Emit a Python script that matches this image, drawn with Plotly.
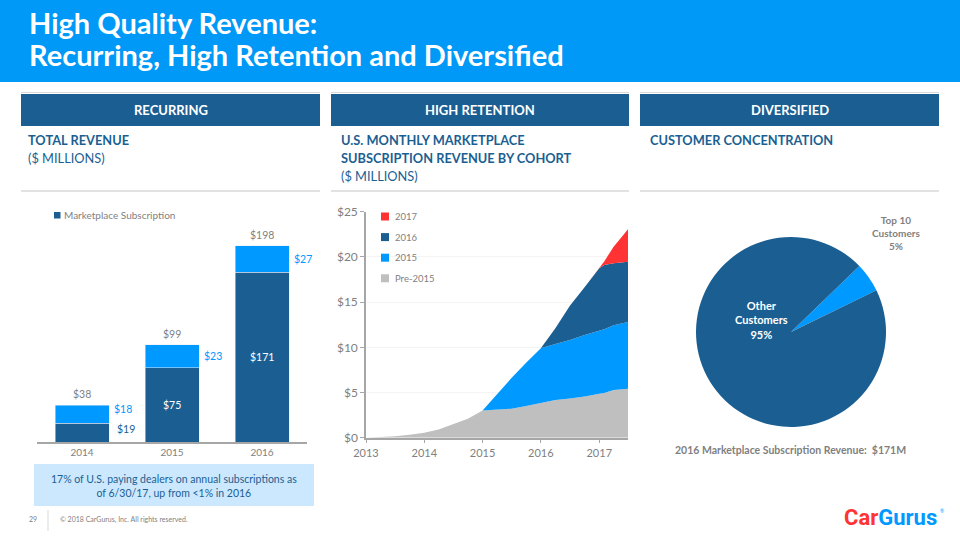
import plotly.graph_objects as go

# ---------------- data ----------------
bar_years = ["2014", "2015", "2016"]
marketplace = [19, 75, 171]
other_rev = [18, 23, 27]
total_labels = ["$38", "$99", "$198"]

dates = ["2013-01-01", "2013-04-01", "2013-07-01", "2013-10-01",
         "2014-01-01", "2014-04-01", "2014-07-01", "2014-10-01",
         "2015-01-01", "2015-04-01", "2015-07-01", "2015-10-01",
         "2016-01-01", "2016-04-01", "2016-07-01", "2016-10-01",
         "2017-01-01", "2017-02-01", "2017-04-01", "2017-06-30"]
pre2015 = [0.0, 0.04, 0.15, 0.33, 0.55, 0.92, 1.5, 2.1, 3.0, 3.08, 3.2, 3.5,
           3.85, 4.17, 4.35, 4.55, 4.85, 4.95, 5.28, 5.42]
cohort2015 = [0, 0, 0, 0, 0, 0, 0, 0, 0, 1.72, 3.4, 4.8,
              6.05, 6.19, 6.45, 6.81, 6.99, 7.05, 7.15, 7.38]
cohort2016 = [0, 0, 0, 0, 0, 0, 0, 0, 0, 0, 0, 0,
              0, 1.74, 3.8, 5.29, 6.9, 7.1, 6.86, 6.65]
cohort2017 = [0, 0, 0, 0, 0, 0, 0, 0, 0, 0, 0, 0,
              0, 0, 0, 0, 0, 0.4, 1.84, 3.6]
y_ticks = [0, 5, 10, 15, 20, 25]
y_tick_labels = ["$0", "$5", "$10", "$15", "$20", "$25"]
x_ticks = ["2013-01-01", "2014-01-01", "2015-01-01", "2016-01-01", "2017-01-01"]
x_tick_labels = ["2013", "2014", "2015", "2016", "2017"]

pie_labels = ["Top 10 Customers", "Other Customers"]
pie_values = [5, 95]

# ---------------- styles ----------------
DARK = "#1B5F92"
LIGHT = "#0099FF"
GRAY = "#BFBFBF"
RED = "#FF3333"
TXT_GRAY = "#7F7F7F"
HEADER = "#0099F7"
FONT = "Lato"

W, H = 960, 540


def px(x):
    return x / W


def py(y):
    return 1 - y / H


fig = go.Figure()

bar_idx = list(range(len(bar_years)))

# ---- bar chart ----
fig.add_trace(go.Bar(x=bar_idx, y=marketplace, marker_color=DARK, name="Marketplace Subscription",
                     xaxis="x", yaxis="y", showlegend=False, hoverinfo="skip"))
fig.add_trace(go.Bar(x=bar_idx, y=other_rev, marker_color=LIGHT, name="Other",
                     xaxis="x", yaxis="y", showlegend=False, hoverinfo="skip"))

# ---- area chart ----
for vals, col, nm in [(pre2015, GRAY, "Pre-2015"), (cohort2015, LIGHT, "2015"),
                      (cohort2016, DARK, "2016"), (cohort2017, RED, "2017")]:
    fig.add_trace(go.Scatter(x=dates, y=vals, stackgroup="cohort", mode="lines",
                             line=dict(width=0, color=col), fillcolor=col, name=nm,
                             xaxis="x2", yaxis="y2", showlegend=False, hoverinfo="skip"))

# ---- pie ----
fig.add_trace(go.Pie(labels=pie_labels, values=pie_values, sort=False, direction="clockwise",
                     rotation=46, marker=dict(colors=[LIGHT, DARK], line=dict(width=0)),
                     textinfo="none", showlegend=False, hoverinfo="skip", automargin=False,
                     domain=dict(x=[px(696), px(886)], y=[py(427), py(237)])))

shapes = []
ann = []

# header
shapes.append(dict(type="rect", xref="paper", yref="paper", x0=0, x1=1, y0=py(82), y1=1,
                   fillcolor=HEADER, line_width=0, layer="below"))
ann.append(dict(text="<b>High Quality Revenue:</b>", x=px(27), y=py(22), xanchor="left", yanchor="middle",
                font=dict(size=29, color="white", family=FONT)))
ann.append(dict(text="<b>Recurring, High Retention and Diversified</b>", x=px(27), y=py(54.5), xanchor="left",
                yanchor="middle", font=dict(size=29, color="white", family=FONT)))

cols = [(21, 320, "RECURRING"), (331, 629, "HIGH RETENTION"), (640, 939, "DIVERSIFIED")]
for x0, x1, t in cols:
    shapes.append(dict(type="line", xref="paper", yref="paper", x0=px(x0), x1=px(x1), y0=py(92.5), y1=py(92.5),
                       line=dict(color="#D9D9D9", width=1)))
    shapes.append(dict(type="rect", xref="paper", yref="paper", x0=px(x0), x1=px(x1), y0=py(126), y1=py(94),
                       fillcolor=DARK, line_width=0, layer="below"))
    shapes.append(dict(type="line", xref="paper", yref="paper", x0=px(x0), x1=px(x1), y0=py(191), y1=py(191),
                       line=dict(color="#D9D9D9", width=1.5)))
    ann.append(dict(text="<b>%s</b>" % t, x=px((x0 + x1) / 2), y=py(110), xanchor="center", yanchor="middle",
                    font=dict(size=13, color="white", family=FONT)))

sub = [(26, 140, "<b>TOTAL REVENUE</b>"), (26, 158, "($ MILLIONS)"),
       (339, 140, "<b>U.S. MONTHLY MARKETPLACE</b>"), (339, 158, "<b>SUBSCRIPTION REVENUE BY COHORT</b>"),
       (339, 176, "($ MILLIONS)"), (648, 140, "<b>CUSTOMER CONCENTRATION</b>")]
for x, y, t in sub:
    ann.append(dict(text=t, x=px(x), y=py(y), xanchor="left", yanchor="middle",
                    font=dict(size=12.8, color=DARK, family=FONT)))

# bar legend
shapes.append(dict(type="rect", xref="paper", yref="paper", x0=px(54), x1=px(60.5), y0=py(218.5), y1=py(212),
                   fillcolor=DARK, line_width=0))
ann.append(dict(text="Marketplace Subscription", x=px(61.5), y=py(215), xanchor="left", yanchor="middle",
                font=dict(size=10, color=TXT_GRAY, family=FONT)))

# bar labels
for i in bar_idx:
    top = marketplace[i] + other_rev[i]
    ann.append(dict(text=total_labels[i], x=i, y=top, xref="x", yref="y", yshift=11, showarrow=False,
                    xanchor="center", yanchor="middle", font=dict(size=10.5, color=TXT_GRAY, family=FONT)))
    ann.append(dict(text="$%d" % other_rev[i], x=i, y=marketplace[i] + other_rev[i] / 2, xref="x", yref="y",
                    xshift=41, yshift=(5 if i == 0 else 0), showarrow=False, xanchor="center", yanchor="middle",
                    font=dict(size=10.5, color=LIGHT, family=FONT)))
    inside = marketplace[i] > 40
    ann.append(dict(text="$%d" % marketplace[i], x=i, y=marketplace[i] / 2, xref="x", yref="y",
                    xshift=(0 if inside else 44), yshift=(0 if inside else 4), showarrow=False,
                    xanchor="center", yanchor="middle",
                    font=dict(size=10.5, color=("white" if inside else DARK), family=FONT)))

# area legend
for i, (nm, col) in enumerate([("2017", RED), ("2016", DARK), ("2015", LIGHT), ("Pre-2015", GRAY)]):
    yc = 216.5 + i * 20.6
    shapes.append(dict(type="rect", xref="paper", yref="paper", x0=px(381), x1=px(389), y0=py(yc + 4),
                       y1=py(yc - 4), fillcolor=col, line_width=0))
    ann.append(dict(text=nm, x=px(393), y=py(yc), xanchor="left", yanchor="middle",
                    font=dict(size=9.5, color=TXT_GRAY, family=FONT)))

# pie labels
ann.append(dict(text="<b>Other<br>Customers<br>95%</b>", x=px(761), y=py(320), xanchor="center",
                yanchor="middle", font=dict(size=11, color="white", family=FONT)))
ann.append(dict(text="<b>Top 10<br>Customers<br>5%</b>", x=px(896), y=py(233.5), xanchor="center",
                yanchor="middle", font=dict(size=10, color=TXT_GRAY, family=FONT)))
ann.append(dict(text="<b>2016 Marketplace Subscription Revenue:  $171M</b>", x=px(790), y=py(450),
                xanchor="center", yanchor="middle", font=dict(size=10.5, color=TXT_GRAY, family=FONT)))

# footnote box
shapes.append(dict(type="rect", xref="paper", yref="paper", x0=px(34), x1=px(314), y0=py(506), y1=py(464),
                   fillcolor="#CCE8FF", line_width=0, layer="below"))
ann.append(dict(text="17% of U.S. paying dealers on annual subscriptions as<br>of 6/30/17, up from <1% in 2016",
                x=px(174), y=py(485.5), xanchor="center", yanchor="middle",
                font=dict(size=10.5, color=DARK, family=FONT)))

# footer
ann.append(dict(text="29", x=px(33), y=py(519), xanchor="center", yanchor="middle",
                font=dict(size=7, color=TXT_GRAY, family=FONT)))
shapes.append(dict(type="line", xref="paper", yref="paper", x0=px(48), x1=px(48), y0=py(510), y1=py(531),
                   line=dict(color="#D9D9D9", width=1)))
ann.append(dict(text="© 2018 CarGurus, Inc. All rights reserved.", x=px(58), y=py(519), xanchor="left",
                yanchor="middle", font=dict(size=7, color=TXT_GRAY, family=FONT)))
ann.append(dict(text="<b><span style='color:#FF3333'>Car</span><span style='color:#0099FF'>Gurus</span></b>",
                x=px(939), y=py(517), xanchor="right", yanchor="middle",
                font=dict(size=22, color=LIGHT, family="Roboto")))
ann.append(dict(text="®", x=px(942), y=py(511), xanchor="center", yanchor="middle",
                font=dict(size=5, color=LIGHT, family=FONT)))

for a in ann:
    a.setdefault("xref", "paper")
    a.setdefault("yref", "paper")
    a.setdefault("showarrow", False)

fig.update_layout(
    width=W, height=H, margin=dict(l=0, r=0, t=0, b=0, pad=0, autoexpand=False),
    paper_bgcolor="white", plot_bgcolor="rgba(0,0,0,0)",
    barmode="stack", bargap=0.4, showlegend=False,
    font=dict(family=FONT, color=TXT_GRAY),
    shapes=shapes, annotations=ann,
    xaxis=dict(domain=[px(37), px(307)], anchor="y", range=[-0.5, 2.5], tickvals=bar_idx, ticktext=bar_years,
               showline=True, linecolor="#A6A6A6", linewidth=1.5, ticks="",
               tickfont=dict(size=10, color=TXT_GRAY, family=FONT), showgrid=False,
               zeroline=False, automargin=False),
    yaxis=dict(domain=[py(442), py(205)], anchor="x", range=[0, 239], visible=False, automargin=False),
    xaxis2=dict(domain=[px(366), px(628)], anchor="y2", type="date", range=["2013-01-01", "2017-06-30"],
                tickvals=x_ticks, ticktext=x_tick_labels, showline=True, linecolor="#A6A6A6", linewidth=1.5,
                ticks="outside", ticklen=4, tickcolor="#A6A6A6", showgrid=False, zeroline=False,
                automargin=False, tickfont=dict(size=11, color=TXT_GRAY, family=FONT)),
    yaxis2=dict(domain=[py(437.7), py(211.7)], anchor="x2", range=[0, 25], tickvals=y_ticks,
                ticktext=y_tick_labels, showline=True, linecolor="#A6A6A6", linewidth=1.5, ticks="outside",
                ticklen=4, tickcolor="#A6A6A6", showgrid=True, gridcolor="#F4F4F4", zeroline=False,
                automargin=False, tickfont=dict(size=12, color=TXT_GRAY, family=FONT)),
)

fig.write_html("out.html", config={"displayModeBar": False},
               post_script="document.body.style.margin='0';document.body.style.overflow='hidden';")
